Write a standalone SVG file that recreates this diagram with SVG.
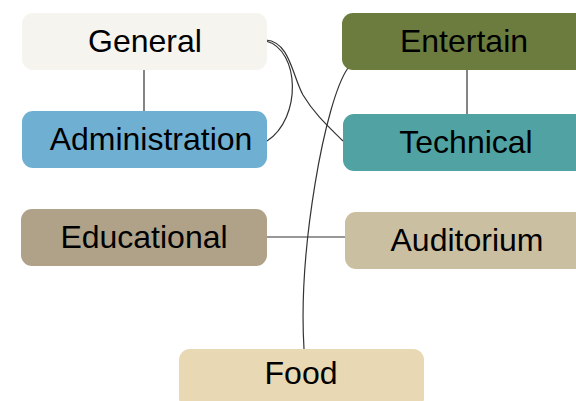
<svg xmlns="http://www.w3.org/2000/svg" width="576" height="401" viewBox="0 0 576 401">
<style>
.lbl{font-family:"Liberation Sans",Arial,sans-serif;font-size:32px;fill:#000;text-anchor:middle}
.c{fill:none;stroke:#333;stroke-width:1.2}
</style>
<rect width="576" height="401" fill="#fff"/>
<g id="connectors">
<path class="c" d="M144,70 V111"/>
<path class="c" d="M467,70 V114"/>
<path class="c" d="M267,237 H345"/>
<path class="c" d="M266,41 C300,50 302,118 267,141"/>
<path class="c" d="M266,40 C290,42 292,75 303,95 C315,115 330,128 343,141"/>
<path class="c" d="M348,68 C325,100 298,250 304,349"/>
</g>
<g id="general"><rect x="22" y="13" width="245" height="57" rx="11" fill="#f5f4ef"/><text class="lbl" x="145" y="52">General</text></g>
<g id="administration"><rect x="22" y="111" width="245" height="57" rx="11" fill="#6fb0d2"/><text class="lbl" x="151" y="150">Administration</text></g>
<g id="entertain"><rect x="342" y="13" width="250" height="57" rx="11" fill="#6b7c3e"/><text class="lbl" x="464" y="52">Entertain</text></g>
<g id="technical"><rect x="343" y="114" width="250" height="57" rx="11" fill="#51a3a3"/><text class="lbl" x="466" y="153">Technical</text></g>
<g id="educational"><rect x="21" y="209" width="246" height="57" rx="11" fill="#afa288"/><text class="lbl" x="144" y="248">Educational</text></g>
<g id="auditorium"><rect x="345" y="212" width="250" height="57" rx="11" fill="#cbbfa2"/><text class="lbl" x="467" y="251">Auditorium</text></g>
<g id="food"><rect x="179" y="349" width="245" height="60" rx="11" fill="#e8d8b3"/><text class="lbl" x="301" y="384">Food</text></g>
</svg>
